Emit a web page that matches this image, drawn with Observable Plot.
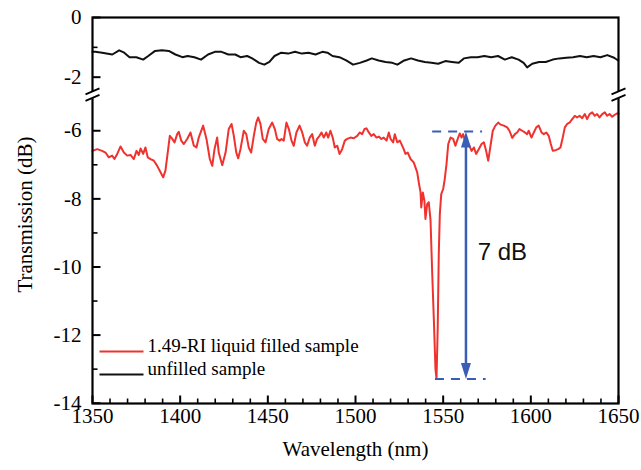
<!DOCTYPE html>
<html><head><meta charset="utf-8">
<script src="https://cdn.jsdelivr.net/npm/d3@7"></script>
<script src="https://cdn.jsdelivr.net/npm/@observablehq/plot@0.6"></script>
<style>html,body{margin:0;padding:0;background:#fff}#chart svg{display:block}</style>
</head><body><div id="chart"></div>
<script>
// Data: [wavelength (nm), transmission (dB)]
const filledSpectrum = [[1350,-6.59],[1352.7,-6.54],[1355.5,-6.59],[1357.4,-6.64],[1359.3,-6.78],[1361.2,-6.73],[1362.5,-6.83],[1364.1,-6.68],[1366.0,-6.46],[1367.9,-6.64],[1369.8,-6.73],[1371.7,-6.71],[1373.6,-6.83],[1375.1,-6.59],[1376.4,-6.71],[1377.4,-6.52],[1378.9,-6.68],[1380.2,-6.49],[1381.5,-6.78],[1383.1,-6.83],[1385.0,-6.88],[1386.9,-7.03],[1388.8,-7.22],[1390.3,-7.37],[1391.6,-7.17],[1392.9,-6.64],[1394.1,-6.15],[1395.5,-6.24],[1396.8,-6.34],[1398.3,-6.10],[1399.2,-6.03],[1400.6,-6.29],[1402.1,-6.39],[1404.0,-6.24],[1405.9,-6.05],[1407.8,-6.44],[1409.3,-6.49],[1410.6,-6.20],[1413.1,-5.85],[1415.0,-6.24],[1416.9,-6.83],[1418.3,-7.03],[1419.6,-6.54],[1421.1,-6.20],[1422.0,-6.64],[1424.0,-7.01],[1425.9,-6.64],[1427.7,-5.95],[1429.3,-5.80],[1430.6,-6.15],[1432.0,-6.64],[1433.1,-6.81],[1434.4,-6.54],[1436.3,-6.00],[1437.7,-6.10],[1439.1,-6.49],[1440.5,-6.64],[1442.0,-6.15],[1443.4,-5.76],[1444.5,-5.61],[1445.8,-5.80],[1447.1,-6.24],[1448.7,-6.34],[1450.5,-5.95],[1452.5,-5.76],[1454.0,-5.95],[1455.3,-6.24],[1456.7,-6.29],[1457.8,-6.24],[1459.1,-6.29],[1460.6,-5.76],[1462.0,-5.95],[1463.5,-6.29],[1464.8,-6.44],[1466.3,-6.05],[1468.1,-5.85],[1469.6,-6.05],[1471.1,-6.34],[1472.4,-6.44],[1473.9,-6.20],[1475.3,-6.10],[1476.8,-6.44],[1478.1,-6.24],[1479.5,-6.15],[1480.6,-6.05],[1481.9,-6.20],[1483.3,-6.05],[1484.4,-6.20],[1485.7,-6.00],[1487.0,-6.20],[1488.2,-6.49],[1489.6,-6.44],[1490.9,-6.68],[1492.4,-6.54],[1493.9,-6.29],[1495.3,-6.24],[1497.1,-6.20],[1499.0,-6.22],[1501.0,-6.15],[1502.5,-6.05],[1503.8,-6.10],[1505.1,-5.95],[1506.3,-5.93],[1507.6,-6.05],[1509.0,-6.15],[1510.4,-6.10],[1512.0,-6.20],[1513.3,-6.17],[1514.7,-6.24],[1516.1,-6.20],[1517.7,-6.29],[1519.0,-6.05],[1520.0,-6.24],[1521.5,-6.34],[1522.4,-6.10],[1523.8,-6.34],[1525.3,-6.29],[1527.5,-6.54],[1528.5,-6.68],[1529.8,-6.64],[1531.4,-6.83],[1533.2,-6.93],[1535.2,-7.22],[1536.1,-7.52],[1537.1,-7.81],[1537.5,-8.25],[1538.4,-7.81],[1539.3,-8.05],[1539.9,-8.59],[1540.9,-8.15],[1541.8,-8.10],[1542.8,-8.64],[1543.7,-10.11],[1544.7,-11.57],[1545.6,-12.99],[1546.2,-13.28],[1546.9,-11.77],[1547.5,-9.62],[1548.1,-8.44],[1548.9,-7.86],[1550.0,-7.71],[1550.9,-7.42],[1551.9,-6.98],[1552.9,-6.39],[1554.2,-6.20],[1555.7,-6.24],[1557.0,-6.44],[1558.3,-6.24],[1559.5,-6.08],[1560.5,-6.20],[1561.4,-6.10],[1562.7,-6.34],[1564.6,-6.39],[1566.2,-6.59],[1567.5,-6.49],[1568.8,-6.68],[1570.3,-6.54],[1571.9,-6.39],[1573.2,-6.34],[1574.5,-6.59],[1575.7,-6.88],[1577.0,-6.44],[1578.3,-6.00],[1579.8,-5.85],[1581.4,-5.76],[1582.7,-5.82],[1584.6,-5.85],[1586.5,-5.90],[1587.8,-6.00],[1589.4,-6.21],[1590.9,-6.10],[1592.2,-6.05],[1593.5,-5.95],[1595.1,-6.00],[1596.6,-6.05],[1597.9,-6.10],[1598.8,-6.00],[1600.4,-6.20],[1601.7,-6.05],[1603.1,-5.90],[1604.5,-5.85],[1606.1,-6.05],[1607.4,-6.10],[1608.8,-6.05],[1610.2,-6.15],[1611.4,-6.39],[1612.5,-6.59],[1614.1,-6.57],[1615.6,-6.54],[1616.9,-6.49],[1618.2,-6.20],[1619.4,-5.90],[1620.7,-5.80],[1622.1,-5.76],[1623.6,-5.66],[1625.1,-5.56],[1626.4,-5.61],[1627.8,-5.56],[1629.3,-5.63],[1630.8,-5.51],[1632.1,-5.66],[1633.5,-5.51],[1635.0,-5.46],[1636.5,-5.56],[1637.8,-5.51],[1639.2,-5.61],[1640.7,-5.51],[1642.2,-5.46],[1643.5,-5.56],[1644.9,-5.51],[1646.4,-5.59],[1647.9,-5.53],[1649.2,-5.49],[1650,-5.50]];

const unfilledSpectrum = [[1350,-1.15],[1351.6,-1.15],[1355.5,-1.18],[1361.3,-1.24],[1365.2,-1.10],[1368.1,-1.18],[1371.1,-1.33],[1375.0,-1.33],[1378.9,-1.41],[1381.8,-1.29],[1385.7,-1.12],[1389.6,-1.10],[1393.5,-1.12],[1397.3,-1.24],[1401.3,-1.33],[1404.2,-1.29],[1408.1,-1.33],[1411.9,-1.41],[1415.9,-1.24],[1419.8,-1.15],[1423.6,-1.15],[1427.5,-1.24],[1431.4,-1.24],[1434.4,-1.33],[1438.2,-1.29],[1441.1,-1.37],[1445.0,-1.52],[1448.0,-1.58],[1450.9,-1.49],[1453.8,-1.29],[1457.7,-1.18],[1461.6,-1.21],[1465.5,-1.15],[1469.4,-1.21],[1473.2,-1.18],[1477.2,-1.24],[1481.1,-1.15],[1484.0,-1.18],[1486.9,-1.29],[1490.8,-1.33],[1494.7,-1.44],[1498.6,-1.58],[1502.5,-1.52],[1506.4,-1.44],[1509.3,-1.37],[1513.2,-1.44],[1517.1,-1.49],[1521.0,-1.52],[1523.9,-1.58],[1527.8,-1.44],[1531.7,-1.37],[1535.6,-1.44],[1539.5,-1.49],[1543.3,-1.52],[1547.2,-1.55],[1551.2,-1.46],[1555.0,-1.49],[1558.9,-1.52],[1561.8,-1.37],[1565.8,-1.33],[1569.6,-1.33],[1573.5,-1.29],[1577.4,-1.33],[1581.3,-1.29],[1585.2,-1.41],[1589.1,-1.33],[1593.0,-1.41],[1595.9,-1.52],[1597.9,-1.67],[1600.8,-1.55],[1604.7,-1.49],[1608.5,-1.49],[1612.5,-1.41],[1616.3,-1.37],[1620.2,-1.35],[1624.1,-1.33],[1628.0,-1.29],[1631.9,-1.33],[1635.8,-1.29],[1639.7,-1.33],[1643.6,-1.26],[1647.5,-1.35],[1649.8,-1.44]];

const xTicks = [1350, 1400, 1450, 1500, 1550, 1600, 1650];
const xMinorTicks = [1360,1370,1380,1390,1410,1420,1430,1440,1460,1470,1480,1490,1510,1520,1530,1540,1560,1570,1580,1590,1610,1620,1630,1640];
const yTicks = [0, -2, -6, -8, -10, -12, -14];
const yMinorTicks = [-1, -7, -9, -11, -13];
const seriesLabels = ["1.49-RI liquid filled sample", "unfilled sample"];
const dipTop = -6.02;      // dB, upper reference level
const dipBottom = -13.29;  // dB, dip minimum
const dipWavelength = 1563;
const dipLabel = "7 dB";
const xTitle = "Wavelength (nm)";
const yTitle = "Transmission (dB)";

const RED = "#f0322e", BLACK = "#111111", BLUE = "#3a5db8";
const SERIF = "Liberation Serif, Times New Roman, Times, serif";
const SANS = "Liberation Sans, Arial, Helvetica, sans-serif";

// broken y axis: upper panel 0 … -2.5, lower panel -5 … -14 (display units)
const brk = d3.scaleLinear().domain([0, -2.5, -5, -14]).range([0, 74.6, 79.2, 385.7]);
const BREAK_AT = -3.75;

const filled = filledSpectrum.map(([x, y]) => ({x, y}));
const unfilled = unfilledSpectrum.map(([x, y]) => ({x, y}));

// custom symbols
const breakGap = {draw(c) { c.moveTo(-8, 0.5); c.lineTo(8, -6.5); c.lineTo(8, 0.5); c.lineTo(-8, 7.5); c.closePath(); }};
const breakLines = {draw(c) { c.moveTo(-7, 0); c.lineTo(7, -6); c.moveTo(-7, 6.5); c.lineTo(7, 0.5); }};
const headUp = {draw(c) { c.moveTo(0, 0); c.lineTo(5, 16); c.lineTo(-5, 16); c.closePath(); }};
const headDown = {draw(c) { c.moveTo(0, 0); c.lineTo(5, -16); c.lineTo(-5, -16); c.closePath(); }};
const legendStroke = {draw(c) { c.moveTo(0, 0); c.lineTo(44, 0); }};
const tickUp = (l) => ({draw(c) { c.moveTo(0, 0); c.lineTo(0, -l); }});
const tickRight = (l) => ({draw(c) { c.moveTo(0, 0); c.lineTo(l, 0); }});

const legendColors = [RED, BLACK];
const legendMarks = seriesLabels.flatMap((label, i) => [
  Plot.dot([label], {frameAnchor: "bottom-left", dx: 7, dy: -52 + 23 * i, symbol: legendStroke, stroke: legendColors[i], strokeWidth: 2, fill: "none"}),
  Plot.text([label], {text: d => d, frameAnchor: "bottom-left", dx: 55, dy: -52 + 23 * i, textAnchor: "start", fontSize: 19, fontFamily: SERIF, fill: "black"})
]);

const plot = Plot.plot({
  width: 641, height: 470,
  marginLeft: 92, marginRight: 23, marginTop: 17, marginBottom: 67,
  style: "background: white; color: black; overflow: visible;",
  x: {domain: [1350, 1650], axis: null},
  y: {domain: [0, 385.7], range: [17, 402.7], axis: null},
  marks: [
    Plot.line(unfilled, {x: "x", y: d => brk(d.y), stroke: BLACK, strokeWidth: 2}),
    Plot.line(filled, {x: "x", y: d => brk(d.y), stroke: RED, strokeWidth: 2}),
    // annotation
    Plot.ruleY([dipTop], {y: d => brk(d), x1: 1544, x2: 1572.5, stroke: BLUE, strokeWidth: 2, strokeDasharray: "9,7"}),
    Plot.ruleY([dipBottom], {y: d => brk(d), x1: 1545.6, x2: 1574.5, stroke: BLUE, strokeWidth: 2, strokeDasharray: "9,7"}),
    Plot.ruleX([dipWavelength], {x: d => d, y1: () => brk(dipTop) + 8, y2: () => brk(dipBottom) - 8, stroke: BLUE, strokeWidth: 2.5}),
    Plot.dot([dipWavelength], {x: d => d, y: () => brk(dipTop), symbol: headUp, fill: BLUE, stroke: "none"}),
    Plot.dot([dipWavelength], {x: d => d, y: () => brk(dipBottom), symbol: headDown, fill: BLUE, stroke: "none"}),
    Plot.text([dipLabel], {text: d => d, x: () => 1583.8, y: () => brk(-9.56), fontFamily: SANS, fontSize: 24, fill: "#111"}),
    ...legendMarks,
    Plot.frame({stroke: "black", strokeWidth: 2.2}),
    // x axis: inward ticks + labels
    Plot.dot(xTicks, {x: d => d, frameAnchor: "bottom", symbol: tickUp(8), stroke: "black", strokeWidth: 2, fill: "none"}),
    Plot.dot(xMinorTicks, {x: d => d, frameAnchor: "bottom", symbol: tickUp(5), stroke: "black", strokeWidth: 1.6, fill: "none"}),
    Plot.text(xTicks, {x: d => d, frameAnchor: "bottom", dy: 19, text: d => String(d), fontFamily: SERIF, fontSize: 21, fill: "black"}),
    // y axis: inward ticks + labels
    Plot.dot(yTicks, {y: d => brk(d), frameAnchor: "left", symbol: tickRight(8), stroke: "black", strokeWidth: 2, fill: "none"}),
    Plot.dot(yMinorTicks, {y: d => brk(d), frameAnchor: "left", symbol: tickRight(5), stroke: "black", strokeWidth: 1.6, fill: "none"}),
    Plot.text(yTicks, {y: d => brk(d), frameAnchor: "left", dx: -11, textAnchor: "end", text: d => String(d), fontFamily: SERIF, fontSize: 21, fill: "black"}),
    // axis break marks
    Plot.dot([1350, 1650], {x: d => d, y: () => brk(BREAK_AT), symbol: breakGap, fill: "white", stroke: "none"}),
    Plot.dot([1350, 1650], {x: d => d, y: () => brk(BREAK_AT), symbol: breakLines, fill: "none", stroke: "black", strokeWidth: 1.8}),
    // titles
    Plot.text([xTitle], {text: d => d, frameAnchor: "bottom", dy: 52, fontSize: 21, fontFamily: SERIF, fill: "black"}),
    Plot.text([yTitle], {text: d => d, frameAnchor: "left", dx: -67, dy: 4, rotate: -90, textAnchor: "middle", fontSize: 21, fontFamily: SERIF, fill: "black"})
  ]
});
document.getElementById("chart").appendChild(plot);
</script>
</body></html>
